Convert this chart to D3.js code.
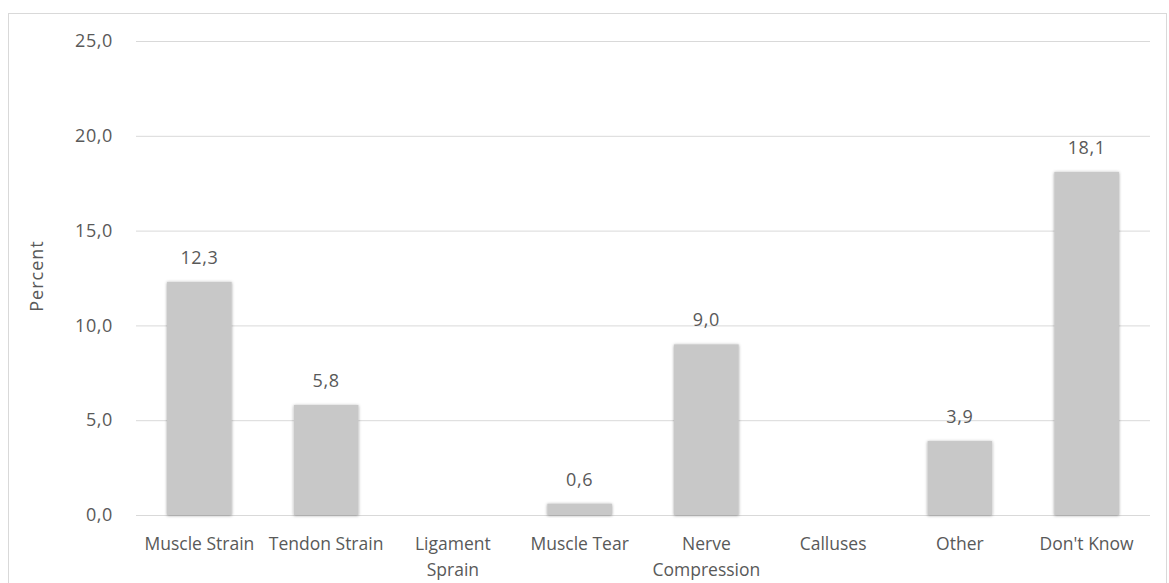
<!DOCTYPE html>
<html><head><meta charset="utf-8">
<script src="https://cdn.jsdelivr.net/npm/d3@7"></script>
<style>
body{margin:0;background:#fff;}
text{font-family:"Open Sans",sans-serif;fill:#595959;}
</style></head>
<body><svg id="c" width="1169" height="583"></svg>
<script>
const categories = ["Muscle Strain","Tendon Strain","Ligament Sprain","Muscle Tear","Nerve Compression","Calluses","Other","Don't Know"];
const categoryLines = [["Muscle Strain"],["Tendon Strain"],["Ligament","Sprain"],["Muscle Tear"],["Nerve","Compression"],["Calluses"],["Other"],["Don't Know"]];
const values = [12.3, 5.8, null, 0.6, 9.0, null, 3.9, 18.1];
const yTicks = [0,5,10,15,20,25];
const yLabel = "Percent";

const svg = d3.select("#c");
const fmt = v => v.toFixed(1).replace(".", ",");
const m = {left:136, right:1150, top:41, bottom:515};

const defs = svg.append("defs");
const f = defs.append("filter").attr("id","sh").attr("x","-20%").attr("y","-20%").attr("width","140%").attr("height","140%");
f.append("feDropShadow").attr("dx",0).attr("dy",0.6).attr("stdDeviation",1.8).attr("flood-color","#000").attr("flood-opacity",0.38);

svg.append("rect").attr("x",8.5).attr("y",13.5).attr("width",1158).attr("height",600)
  .attr("fill","#fff").attr("stroke","#d9d9d9").attr("stroke-width",1);

const x = d3.scaleBand().domain(categories).range([m.left,m.right]).paddingInner(0.49).paddingOuter(0.245);
const y = d3.scaleLinear().domain([0,25]).range([m.bottom,m.top]);

const yAxis = svg.append("g").attr("transform",`translate(${m.left},0)`)
  .call(d3.axisLeft(y).tickValues(yTicks).tickFormat(fmt).tickSize(-(m.right-m.left)).tickPadding(23));
yAxis.select(".domain").remove();
yAxis.attr("font-size",null).attr("font-family",null);
yAxis.selectAll(".tick line").attr("stroke","#d9d9d9").attr("stroke-width",1);
yAxis.selectAll(".tick text").style("font-size","18px").style("letter-spacing","0.6px").style("fill","#595959");

svg.append("text").attr("transform",`translate(43,276) rotate(-90)`)
  .attr("text-anchor","middle").style("font-size","18px").style("letter-spacing","1px").text(yLabel);

const data = categories.map((c,i)=>({c, v:values[i], lines:categoryLines[i]}));
svg.append("g").selectAll("rect").data(data.filter(d=>d.v!=null)).join("rect")
  .attr("x",d=>x(d.c)).attr("width",x.bandwidth())
  .attr("y",d=>y(d.v)).attr("height",d=>y(0)-y(d.v))
  .attr("fill","#c8c8c8").attr("filter","url(#sh)");

svg.append("g").selectAll("text").data(data.filter(d=>d.v!=null)).join("text")
  .attr("x",d=>x(d.c)+x.bandwidth()/2).attr("y",d=>y(d.v)-18)
  .attr("text-anchor","middle").style("font-size","18px").style("letter-spacing","0.6px").text(d=>fmt(d.v));

const xl = svg.append("g").selectAll("text").data(data).join("text")
  .attr("x",d=>x(d.c)+x.bandwidth()/2).attr("y",550).attr("text-anchor","middle").style("font-size","17.5px");
xl.selectAll("tspan").data(d=>d.lines.map(l=>({l,x:x(d.c)+x.bandwidth()/2}))).join("tspan")
  .attr("x",t=>t.x).attr("dy",(t,i)=>i?26:0).text(t=>t.l);
</script></body></html>
